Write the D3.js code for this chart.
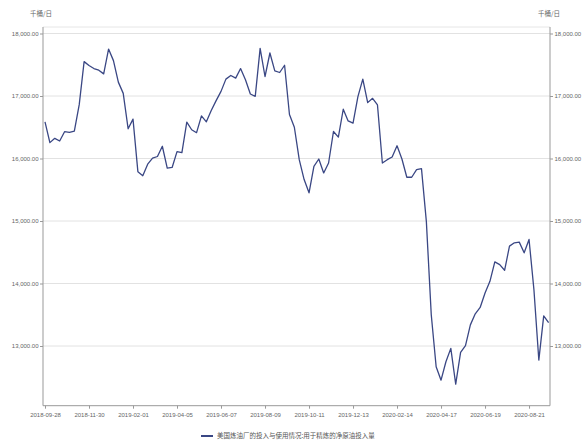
<!DOCTYPE html>
<html>
<head>
<meta charset="utf-8">
<script src="https://cdn.jsdelivr.net/npm/d3@7"></script>
<style>
  html, body { margin: 0; padding: 0; background: #fff; }
  svg { display: block; font-family: "Noto Sans CJK SC", "Noto Sans", sans-serif; }
  .axis text { fill: #666; font-size: 6px; font-family: "Liberation Sans", Arial, sans-serif; }
  .axis path, .axis line { stroke: #999; }
</style>
</head>
<body>
<div id="chart"></div>
<script>
// 美国炼油厂净原油投入量（周度，千桶/日）
const startDate = "2018-09-28";
const values = [
  16587, 16254, 16323, 16280, 16429, 16418, 16439, 16862, 17550, 17487,
  17439, 17413, 17354, 17751, 17566, 17222, 17042, 16476, 16630, 15788,
  15725, 15910, 16005, 16032, 16196, 15847, 15857, 16111, 16095, 16582,
  16460, 16413, 16683, 16587, 16767, 16926, 17074, 17270, 17328, 17286,
  17439, 17259, 17032, 16995, 17762, 17312, 17688, 17402, 17376, 17492,
  16704, 16500, 15981, 15663, 15451, 15875, 15992, 15769, 15928, 16432,
  16342, 16788, 16602, 16565, 16989, 17271, 16894, 16963, 16857, 15928,
  15981, 16024, 16204, 15992, 15700, 15700, 15822, 15838, 14990, 13500,
  12668, 12453, 12748, 12962, 12389, 12898, 13005, 13338, 13515, 13617,
  13847, 14035, 14346, 14303, 14212, 14598, 14651, 14662, 14491, 14705,
  13901, 12775, 13483, 13375
];
const xTickLabels = [
  "2018-09-28", "2018-11-30", "2019-02-01", "2019-04-05", "2019-06-07", "2019-08-09",
  "2019-10-11", "2019-12-13", "2020-02-14", "2020-04-17", "2020-06-19", "2020-08-21"
];
const yTicks = [13000, 14000, 15000, 16000, 17000, 18000];
const unitLabel = "千桶/日";
const seriesName = "美国炼油厂的投入与使用情况:用于精炼的净原油投入量";

const width = 582, height = 446;
const plotLeft = 43, plotRight = 550, plotTop = 27, plotBottom = 405.7;

const parse = d3.timeParse("%Y-%m-%d");
const t0 = parse(startDate);
const data = values.map((v, i) => ({ date: d3.timeDay.offset(t0, 7 * i), value: v }));

const svg = d3.select("#chart").append("svg")
  .attr("width", width)
  .attr("height", height);

const x = d3.scaleTime()
  .domain([data[0].date, data[data.length - 1].date])
  .range([45, 548.6]);

const y = d3.scaleLinear()
  .domain([12045, 18104])
  .range([plotBottom, plotTop]);

// 网格线
svg.append("g")
  .selectAll("line")
  .data(yTicks)
  .join("line")
  .attr("x1", plotLeft).attr("x2", plotRight)
  .attr("y1", d => y(d)).attr("y2", d => y(d))
  .attr("stroke", "#e2e2e2")
  .attr("stroke-width", 1);

svg.append("line")
  .attr("x1", plotLeft).attr("x2", plotRight)
  .attr("y1", plotTop).attr("y2", plotTop)
  .attr("stroke", "#e6e6e6");

const fmt = d3.format(",.2f");

svg.append("g")
  .attr("class", "axis")
  .attr("transform", `translate(${plotLeft},0)`)
  .call(d3.axisLeft(y).tickValues(yTicks).tickFormat(fmt).tickSize(3).tickPadding(1.5).tickSizeOuter(0))
  .call(g => g.select(".domain").attr("d", `M0,${plotTop}V${plotBottom}`));

svg.append("g")
  .attr("class", "axis")
  .attr("transform", `translate(${plotRight},0)`)
  .call(d3.axisRight(y).tickValues(yTicks).tickFormat(fmt).tickSize(3).tickPadding(1.5).tickSizeOuter(0))
  .call(g => g.select(".domain").attr("d", `M0,${plotTop}V${plotBottom}`));

svg.append("g")
  .attr("class", "axis")
  .attr("transform", `translate(0,${plotBottom})`)
  .call(d3.axisBottom(x)
    .tickValues(xTickLabels.map(parse))
    .tickFormat(d3.timeFormat("%Y-%m-%d"))
    .tickSize(3).tickSizeOuter(0))
  .call(g => g.select(".domain").attr("d", `M${plotLeft},0H${plotRight}`))
  .call(g => g.selectAll("text").attr("dy", "0.9em"));

// 单位
svg.append("text")
  .attr("x", 41).attr("y", 16)
  .attr("text-anchor", "middle")
  .attr("font-size", 6.5).attr("fill", "#666")
  .text(unitLabel);

svg.append("text")
  .attr("x", 549).attr("y", 16)
  .attr("text-anchor", "middle")
  .attr("font-size", 6.5).attr("fill", "#666")
  .text(unitLabel);

// 折线
const line = d3.line()
  .x(d => x(d.date))
  .y(d => y(d.value));

svg.append("path")
  .datum(data)
  .attr("fill", "none")
  .attr("stroke", "#3a4784")
  .attr("stroke-width", 1.3)
  .attr("stroke-linejoin", "round")
  .attr("d", line);

// 图例
const legend = svg.append("g").attr("transform", "translate(201,436)");
legend.append("line")
  .attr("x1", 0).attr("x2", 12)
  .attr("stroke", "#3a4784")
  .attr("stroke-width", 2);
legend.append("text")
  .attr("x", 16).attr("dy", "0.35em")
  .attr("font-size", 6.5).attr("fill", "#555")
  .text(seriesName);
</script>
</body>
</html>
